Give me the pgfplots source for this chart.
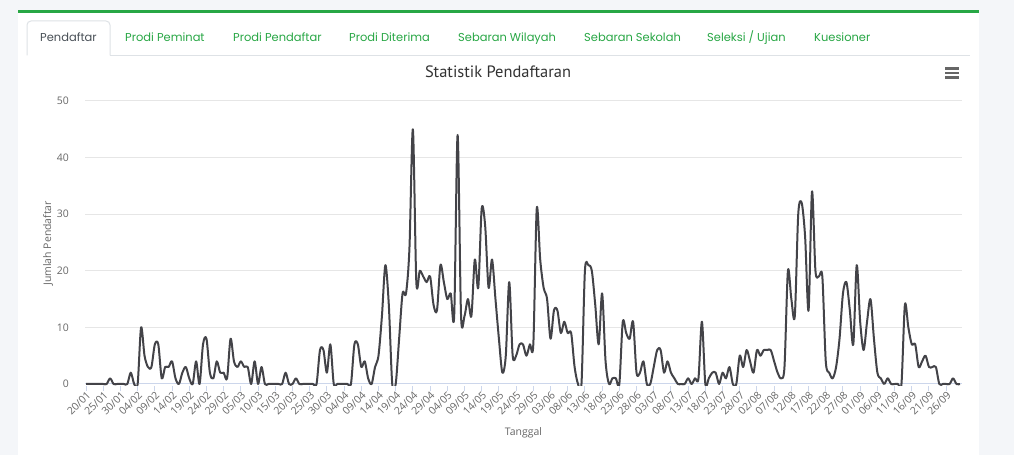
\documentclass[border=0pt]{standalone}
\usepackage{pgfplots}
\pgfplotsset{compat=1.18}
\usepackage{fontspec}
\setmainfont{Open Sans}
\newfontfamily\tabfont{Poppins}
\newfontfamily\titlefont{PT Sans}
\definecolor{bgc}{HTML}{F4F6F9}
\definecolor{greenc}{HTML}{28A745}
\definecolor{tabtext}{HTML}{495057}
\definecolor{tabborder}{HTML}{DEE2E6}
\definecolor{linec}{HTML}{434348}
\definecolor{gridc}{HTML}{E6E6E6}
\definecolor{axisc}{HTML}{CCD6EB}
\definecolor{labelc}{HTML}{666666}
\definecolor{titlec}{HTML}{333333}
\begin{document}
\begin{tikzpicture}[x=1bp,y=1bp]
\useasboundingbox (0,0) rectangle (1014,455);
\fill[bgc] (0,0) rectangle (1014,455);
\fill[white] (18,0) rectangle (979,444);
\fill[greenc] (18,442) rectangle (979,445);
\draw[tabborder, line width=1bp, rounded corners=4bp] (27,399.5) -- (27,434) -- (110,434) -- (110,399.5);
\draw[tabborder, line width=1bp] (110,399.5) -- (970,399.5);
\begin{scope}[every node/.style={anchor=base west, inner sep=0, text=greenc, font=\tabfont\fontsize{11.5}{13}\selectfont}]
\node[text=tabtext] at (40,413) {Pendaftar};
\node at (125,413) {Prodi Peminat};
\node at (233,413) {Prodi Pendaftar};
\node at (349,413) {Prodi Diterima};
\node at (458,413) {Sebaran Wilayah};
\node at (584,413) {Sebaran Sekolah};
\node at (707,413) {Seleksi / Ujian};
\node at (814,413) {Kuesioner};
\end{scope}
\node[anchor=base, inner sep=0, text=titlec, font=\titlefont\fontsize{16.5}{18}\selectfont] at (498,377) {Statistik Pendaftaran};
\fill[labelc] (945,385) rectangle (959,387.5);
\fill[labelc] (945,380.5) rectangle (959,383);
\fill[labelc] (945,376) rectangle (959,378.5);
\begin{axis}[
  at={(85bp,69.3bp)}, anchor=south west, scale only axis,
  width=877bp, height=284.7bp,
  xmin=-0.3, xmax=254.6, ymin=-0.3, ymax=50,
  axis line style={draw=none},
  xtick={0,5,...,250},
  xticklabels={20/01,25/01,30/01,04/02,09/02,14/02,19/02,24/02,29/02,05/03,10/03,15/03,20/03,25/03,30/03,04/04,09/04,14/04,19/04,24/04,29/04,04/05,09/05,14/05,19/05,24/05,29/05,03/06,08/06,13/06,18/06,23/06,28/06,03/07,08/07,13/07,18/07,23/07,28/07,02/08,07/08,12/08,17/08,22/08,27/08,01/09,06/09,11/09,16/09,21/09,26/09},
  xtick pos=bottom, ytick pos=left,
  tick align=outside, major tick length=5bp,
  xtick style={draw=axisc, line width=1bp},
  ytick={0,10,...,50}, ytick style={draw=none},
  ymajorgrids, major grid style={draw=gridc, line width=1bp},
  extra y ticks={0}, extra y tick labels={},
  extra y tick style={ymajorgrids=true, major grid style={draw=axisc, line width=1bp}, ytick style={draw=none}},
  ticklabel style={font=\fontsize{10.5}{12}\selectfont, text=labelc},
  xticklabel style={rotate=45, anchor=east, yshift=-4bp, xshift=1bp, inner sep=1bp},
  yticklabel style={anchor=east, xshift=-10bp, inner sep=1bp},
  /pgf/number format/assume math mode=true,
  xlabel={Tanggal}, ylabel={Jumlah Pendaftar},
  label style={font=\fontsize{10.5}{12}\selectfont, text=labelc},
  xlabel style={at={(axis description cs:0.5,-0.166)}, anchor=center},
  ylabel style={at={(axis description cs:-0.0422,0.5)}, anchor=center},
  clip=true,
]
\addplot[linec, line width=2bp, smooth, tension=0.5, line join=round] coordinates {
(0,0)(1,0)(2,0)(3,0)(4,0)(5,0)(6,0)(7,1)(8,0)(9,0)(10,0)(11,0)(12,0)(13,2)(14,0)(15,0)(16,10)(17,5)(18,3)(19,3)
(20,7)(21,7)(22,1)(23,3)(24,3)(25,4)(26,1)(27,0)(28,2)(29,3)(30,1)(31,0)(32,4)(33,0)(34,7)(35,8)(36,2)(37,1)(38,4)(39,2)
(40,2)(41,1)(42,8)(43,4)(44,3)(45,4)(46,3)(47,3)(48,0)(49,4)(50,0)(51,3)(52,0)(53,0)(54,0)(55,0)(56,0)(57,0)(58,2)(59,0)
(60,0)(61,1)(62,0)(63,0)(64,0)(65,0)(66,0)(67,0)(68,6)(69,6)(70,2)(71,7)(72,0)(73,0)(74,0)(75,0)(76,0)(77,0)(78,7)(79,7)
(80,3)(81,4)(82,1)(83,0)(84,3)(85,5)(86,12)(87,21)(88,14)(89,0)(90,0)(91,8)(92,16)(93,16)(94,24)(95,45)(96,18)(97,20)(98,19)(99,18)
(100,19)(101,14)(102,13)(103,21)(104,18)(105,15)(106,16)(107,12)(108,44)(109,12)(110,12)(111,15)(112,12)(113,22)(114,17)(115,31)(116,28)(117,17)(118,22)(119,15)
(120,8)(121,2)(122,5)(123,18)(124,5)(125,5)(126,7)(127,7)(128,5)(129,7)(130,7)(131,31)(132,22)(133,17)(134,15)(135,8)(136,13)(137,13)(138,9)(139,11)
(140,9)(141,9)(142,3)(143,0)(144,0)(145,20)(146,21)(147,20)(148,14)(149,7)(150,16)(151,4)(152,0)(153,1)(154,1)(155,0)(156,11)(157,9)(158,8)(159,11)
(160,2)(161,2)(162,4)(163,0)(164,0)(165,3)(166,6)(167,6)(168,2)(169,4)(170,2)(171,1)(172,0)(173,0)(174,0)(175,1)(176,0)(177,1)(178,1)(179,11)
(180,0)(181,1)(182,2)(183,2)(184,0)(185,2)(186,1)(187,3)(188,0)(189,0)(190,5)(191,3)(192,6)(193,4)(194,2)(195,6)(196,5)(197,6)(198,6)(199,6)
(200,4)(201,2)(202,1)(203,3)(204,20)(205,15)(206,12)(207,30)(208,32)(209,26)(210,13)(211,34)(212,20)(213,19)(214,19)(215,4)(216,2)(217,1)(218,3)(219,8)
(220,16)(221,18)(222,13)(223,7)(224,21)(225,11)(226,6)(227,11)(228,15)(229,8)(230,2)(231,1)(232,0)(233,1)(234,0)(235,0)(236,0)(237,0)(238,14)(239,10)
(240,7)(241,7)(242,3)(243,4)(244,5)(245,3)(246,3)(247,3)(248,0)(249,0)(250,0)(251,0)(252,1)(253,0)(254,0)
};
\end{axis}
\end{tikzpicture}
\end{document}
